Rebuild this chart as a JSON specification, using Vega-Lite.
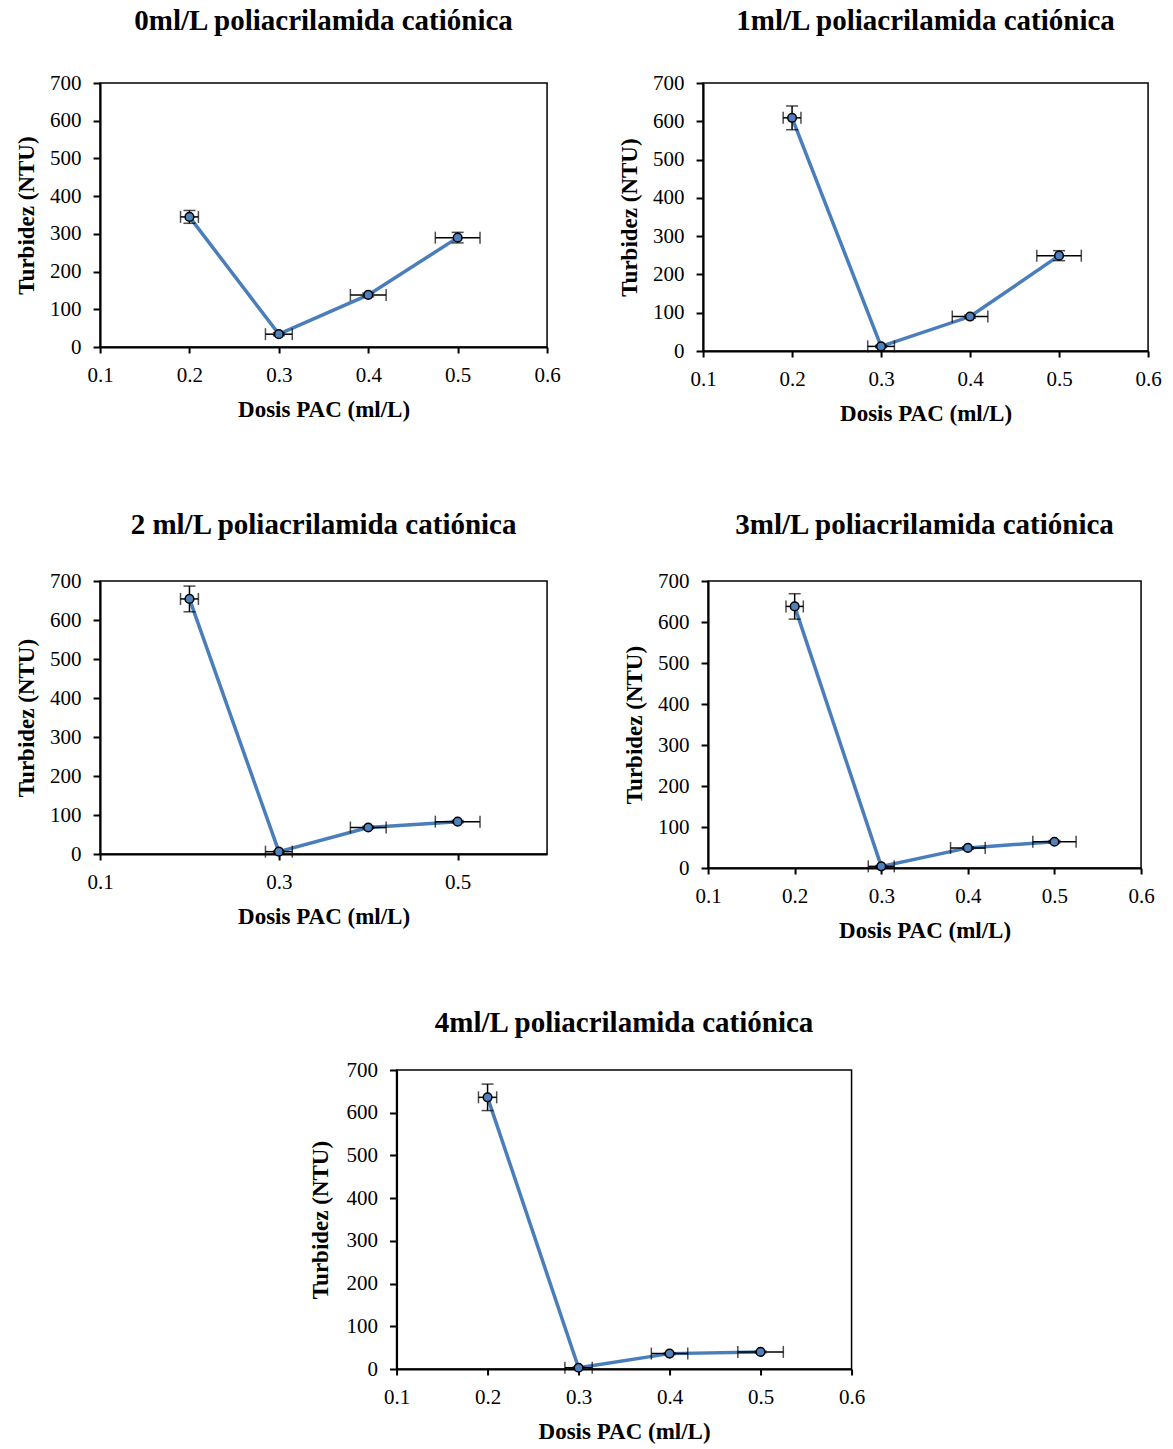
{
  "$schema": "https://vega.github.io/schema/vega-lite/v6.json",
  "background": "white",
  "padding": {"left": 14, "top": 6, "right": 5, "bottom": 5},
  "data": {"values": [
    {"panel": 0, "dose": 0.2, "turb": 345, "terr": 17, "derr": 0.01},
    {"panel": 0, "dose": 0.3, "turb": 34, "terr": 4, "derr": 0.015},
    {"panel": 0, "dose": 0.4, "turb": 138, "terr": 5, "derr": 0.02},
    {"panel": 0, "dose": 0.5, "turb": 290, "terr": 14, "derr": 0.025},
    {"panel": 1, "dose": 0.2, "turb": 609, "terr": 31, "derr": 0.01},
    {"panel": 1, "dose": 0.3, "turb": 12, "terr": 3, "derr": 0.015},
    {"panel": 1, "dose": 0.4, "turb": 90, "terr": 4, "derr": 0.02},
    {"panel": 1, "dose": 0.5, "turb": 249, "terr": 13, "derr": 0.025},
    {"panel": 2, "dose": 0.2, "turb": 654, "terr": 33, "derr": 0.01},
    {"panel": 2, "dose": 0.3, "turb": 6, "terr": 2, "derr": 0.015},
    {"panel": 2, "dose": 0.4, "turb": 68, "terr": 3, "derr": 0.02},
    {"panel": 2, "dose": 0.5, "turb": 83, "terr": 3, "derr": 0.025},
    {"panel": 3, "dose": 0.2, "turb": 638, "terr": 31, "derr": 0.01},
    {"panel": 3, "dose": 0.3, "turb": 4, "terr": 2, "derr": 0.015},
    {"panel": 3, "dose": 0.4, "turb": 49, "terr": 3, "derr": 0.02},
    {"panel": 3, "dose": 0.5, "turb": 64, "terr": 3, "derr": 0.025},
    {"panel": 4, "dose": 0.2, "turb": 636, "terr": 31, "derr": 0.01},
    {"panel": 4, "dose": 0.3, "turb": 3, "terr": 2, "derr": 0.015},
    {"panel": 4, "dose": 0.4, "turb": 36, "terr": 2, "derr": 0.02},
    {"panel": 4, "dose": 0.5, "turb": 40, "terr": 2, "derr": 0.025}
  ]},
  "vconcat": [
    {
      "vconcat": [
        {
          "hconcat": [
            {
              "width": 447, "height": 264,
              "title": {"text": "0ml/L poliacrilamida catiónica", "offset": 36},
              "transform": [{"filter": "datum.panel == 0"}],
              "encoding": {
                "x": {"field": "dose", "type": "quantitative", "scale": {"domain": [0.1, 0.6], "nice": false}, "axis": {"title": "Dosis PAC (ml/L)", "values": [0.1, 0.2, 0.3, 0.4, 0.5, 0.6], "format": ".1f"}},
                "y": {"field": "turb", "type": "quantitative", "scale": {"domain": [0, 700], "nice": false}, "axis": {"title": "Turbidez (NTU)", "values": [0, 100, 200, 300, 400, 500, 600, 700]}}
              },
              "layer": [
                {"mark": {"type": "line", "color": "#4A7EBB", "strokeWidth": 3.5}},
                {"mark": {"type": "errorbar", "color": "black", "thickness": 1.5, "ticks": true, "size": 12}, "encoding": {"yError": {"field": "terr"}}},
                {"mark": {"type": "errorbar", "color": "black", "thickness": 1.5, "ticks": true, "size": 12}, "encoding": {"xError": {"field": "derr"}}},
                {"mark": {"type": "point", "filled": true, "fill": "#4F81BD", "stroke": "black", "strokeWidth": 1.5, "size": 75, "opacity": 1}}
              ]
            },
            {
              "width": 445, "height": 268,
              "title": {"text": "1ml/L poliacrilamida catiónica", "offset": 36},
              "transform": [{"filter": "datum.panel == 1"}],
              "encoding": {
                "x": {"field": "dose", "type": "quantitative", "scale": {"domain": [0.1, 0.6], "nice": false}, "axis": {"title": "Dosis PAC (ml/L)", "values": [0.1, 0.2, 0.3, 0.4, 0.5, 0.6], "format": ".1f"}},
                "y": {"field": "turb", "type": "quantitative", "scale": {"domain": [0, 700], "nice": false}, "axis": {"title": "Turbidez (NTU)", "values": [0, 100, 200, 300, 400, 500, 600, 700]}}
              },
              "layer": [
                {"mark": {"type": "line", "color": "#4A7EBB", "strokeWidth": 3.5}},
                {"mark": {"type": "errorbar", "color": "black", "thickness": 1.5, "ticks": true, "size": 12}, "encoding": {"yError": {"field": "terr"}}},
                {"mark": {"type": "errorbar", "color": "black", "thickness": 1.5, "ticks": true, "size": 12}, "encoding": {"xError": {"field": "derr"}}},
                {"mark": {"type": "point", "filled": true, "fill": "#4F81BD", "stroke": "black", "strokeWidth": 1.5, "size": 75, "opacity": 1}}
              ]
            }
          ],
          "spacing": 56
        },
        {
          "hconcat": [
            {
              "width": 447, "height": 273,
              "title": {"text": "2 ml/L poliacrilamida catiónica", "offset": 30},
              "transform": [{"filter": "datum.panel == 2"}],
              "encoding": {
                "x": {"field": "dose", "type": "quantitative", "scale": {"domain": [0.1, 0.6], "nice": false}, "axis": {"title": "Dosis PAC (ml/L)", "values": [0.1, 0.3, 0.5], "format": ".1f"}},
                "y": {"field": "turb", "type": "quantitative", "scale": {"domain": [0, 700], "nice": false}, "axis": {"title": "Turbidez (NTU)", "values": [0, 100, 200, 300, 400, 500, 600, 700]}}
              },
              "layer": [
                {"mark": {"type": "line", "color": "#4A7EBB", "strokeWidth": 3.5}},
                {"mark": {"type": "errorbar", "color": "black", "thickness": 1.5, "ticks": true, "size": 12}, "encoding": {"yError": {"field": "terr"}}},
                {"mark": {"type": "errorbar", "color": "black", "thickness": 1.5, "ticks": true, "size": 12}, "encoding": {"xError": {"field": "derr"}}},
                {"mark": {"type": "point", "filled": true, "fill": "#4F81BD", "stroke": "black", "strokeWidth": 1.5, "size": 75, "opacity": 1}}
              ]
            },
            {
              "width": 433, "height": 287,
              "title": {"text": "3ml/L poliacrilamida catiónica", "offset": 30},
              "transform": [{"filter": "datum.panel == 3"}],
              "encoding": {
                "x": {"field": "dose", "type": "quantitative", "scale": {"domain": [0.1, 0.6], "nice": false}, "axis": {"title": "Dosis PAC (ml/L)", "values": [0.1, 0.2, 0.3, 0.4, 0.5, 0.6], "format": ".1f"}},
                "y": {"field": "turb", "type": "quantitative", "scale": {"domain": [0, 700], "nice": false}, "axis": {"title": "Turbidez (NTU)", "values": [0, 100, 200, 300, 400, 500, 600, 700]}}
              },
              "layer": [
                {"mark": {"type": "line", "color": "#4A7EBB", "strokeWidth": 3.5}},
                {"mark": {"type": "errorbar", "color": "black", "thickness": 1.5, "ticks": true, "size": 12}, "encoding": {"yError": {"field": "terr"}}},
                {"mark": {"type": "errorbar", "color": "black", "thickness": 1.5, "ticks": true, "size": 12}, "encoding": {"xError": {"field": "derr"}}},
                {"mark": {"type": "point", "filled": true, "fill": "#4F81BD", "stroke": "black", "strokeWidth": 1.5, "size": 75, "opacity": 1}}
              ]
            }
          ],
          "spacing": 74
        }
      ],
      "spacing": 84
    },
    {
      "width": 455, "height": 299,
      "title": {"text": "4ml/L poliacrilamida catiónica", "offset": 21},
      "transform": [{"filter": "datum.panel == 4"}],
      "encoding": {
        "x": {"field": "dose", "type": "quantitative", "scale": {"domain": [0.1, 0.6], "nice": false}, "axis": {"title": "Dosis PAC (ml/L)", "values": [0.1, 0.2, 0.3, 0.4, 0.5, 0.6], "format": ".1f"}},
        "y": {"field": "turb", "type": "quantitative", "scale": {"domain": [0, 700], "nice": false}, "axis": {"title": "Turbidez (NTU)", "values": [0, 100, 200, 300, 400, 500, 600, 700], "titlePadding": 14}}
      },
      "layer": [
        {"mark": {"type": "line", "color": "#4A7EBB", "strokeWidth": 3.5}},
        {"mark": {"type": "errorbar", "color": "black", "thickness": 1.5, "ticks": true, "size": 12}, "encoding": {"yError": {"field": "terr"}}},
        {"mark": {"type": "errorbar", "color": "black", "thickness": 1.5, "ticks": true, "size": 12}, "encoding": {"xError": {"field": "derr"}}},
        {"mark": {"type": "point", "filled": true, "fill": "#4F81BD", "stroke": "black", "strokeWidth": 1.5, "size": 75, "opacity": 1}}
      ]
    }
  ],
  "spacing": 65,
  "center": true,
  "config": {
    "font": "Liberation Serif",
    "view": {"stroke": "black", "strokeWidth": 1.5},
    "title": {"font": "Liberation Serif", "fontSize": 29, "fontWeight": "bold", "color": "black", "anchor": "middle"},
    "axis": {
      "grid": false,
      "domainColor": "black", "domainWidth": 2,
      "tickColor": "black", "tickWidth": 2,
      "labelFont": "Liberation Serif", "labelFontSize": 21, "labelColor": "black",
      "titleFont": "Liberation Serif", "titleFontSize": 23, "titleFontWeight": "bold", "titleColor": "black"
    },
    "axisX": {"tickSize": 6, "labelPadding": 11, "titlePadding": 13, "labelFlush": false},
    "axisY": {"tickSize": 7, "labelPadding": 12, "titlePadding": 11}
  }
}
